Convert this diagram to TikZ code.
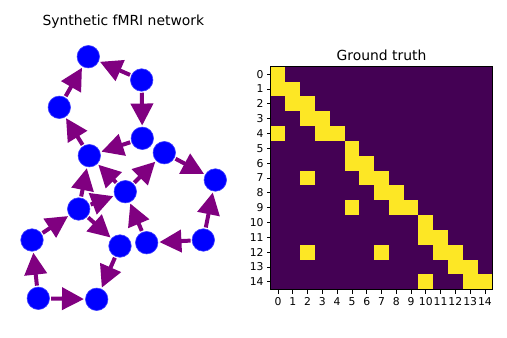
\documentclass[tikz,border=0pt]{standalone}
\usepackage{fontspec}
\setmainfont{DejaVu Sans}
\usepackage{xcolor}
\usepackage{tikz}
\usetikzlibrary{arrows.meta, positioning}

\definecolor{roiblue}{HTML}{0000FF}
\definecolor{linkpurple}{HTML}{800080}
\definecolor{vdark}{HTML}{440154}
\definecolor{vbright}{HTML}{FDE725}

\tikzset{
	roi/.style={circle, fill=roiblue, draw=roiblue!75!white, line width=0.6pt, minimum size=22.5pt, inner sep=0pt, outer sep=1.5pt},
	link/.style={draw=linkpurple, line width=4pt, -{Triangle[length=22pt, width=22pt, fill=linkpurple]}},
	axtick/.style={line width=0.8pt},
	ticklabel/.style={font=\fontsize{10.8}{13}\selectfont, inner sep=0pt}
}

\begin{document}
\begin{tikzpicture}[x=1pt, y=-1pt]
		\useasboundingbox (0, 0) rectangle (507, 338);
		% Titles:
		\node[anchor=base, font=\fontsize{13.9}{16}\selectfont](T1) at (123.4, 25.3){Synthetic fMRI network};
		\node[anchor=base, font=\fontsize{13.9}{16}\selectfont](T2) at (381.5, 60){Ground truth};
		% Network nodes:
		\node[roi](n0) at (88.3, 56.7){};
		\node[roi](n1) at (59.3, 107.3){};
		\node[roi](n2) at (89.3, 155.7){};
		\node[roi](n3) at (142.3, 138.3){};
		\node[roi](n4) at (141.7, 80){};
		\node[roi](n5) at (215.3, 180){};
		\node[roi](n6) at (164.3, 152.7){};
		\node[roi](n7) at (125.3, 191.7){};
		\node[roi](n8) at (146.7, 242.7){};
		\node[roi](n9) at (203.3, 240){};
		\node[roi](n10) at (96.7, 299.3){};
		\node[roi](n11) at (120, 246){};
		\node[roi](n12) at (78.7, 209){};
		\node[roi](n13) at (32, 240){};
		\node[roi](n14) at (38.3, 298.3){};
		% Directed links:
		\draw[link] (n1) -- (n0);
		\draw[link] (n2) -- (n1);
		\draw[link] (n3) -- (n2);
		\draw[link] (n4) -- (n3);
		\draw[link] (n4) -- (n0);
		\draw[link] (n6) -- (n5);
		\draw[link] (n7) -- (n6);
		\draw[link] (n7) -- (n2);
		\draw[link] (n8) -- (n7);
		\draw[link] (n9) -- (n8);
		\draw[link] (n9) -- (n5);
		\draw[link] (n11) -- (n10);
		\draw[link] (n12) -- (n11);
		\draw[link] (n12) -- (n2);
		\draw[link] (n12) -- (n7);
		\draw[link] (n13) -- (n12);
		\draw[link] (n14) -- (n13);
		\draw[link] (n14) -- (n10);
		% Ground truth matrix:
		\fill[vdark] (270.7, 66.7) rectangle (492.3, 289.3);
		\foreach \r/\c in {0/0, 1/0, 1/1, 2/1, 2/2, 3/2, 3/3, 4/0, 4/3, 4/4, 5/5, 6/5, 6/6, 7/2, 7/6, 7/7, 8/7, 8/8, 9/5, 9/8, 9/9, 10/10, 11/10, 11/11, 12/2, 12/7, 12/11, 12/12, 13/12, 13/13, 14/10, 14/13, 14/14}
			\fill[vbright] (270.7+14.773*\c, 66.7+14.84*\r) rectangle ++(14.773, 14.84);
		\draw[line width=0.8pt] (270.7, 66.7) rectangle (492.3, 289.3);
		\foreach \i in {0,...,14}{
			\draw[axtick] (270.7+14.773*\i+7.39, 289.3) -- ++(0, 4.2);
			\node[ticklabel, anchor=north] at (270.7+14.773*\i+7.39, 297){\i};
			\draw[axtick] (270.7, 66.7+14.84*\i+7.42) -- ++(-4.2, 0);
			\node[ticklabel, anchor=east] at (263.8, 66.7+14.84*\i+7.42){\i};
		}
	\end{tikzpicture}
\end{document}
